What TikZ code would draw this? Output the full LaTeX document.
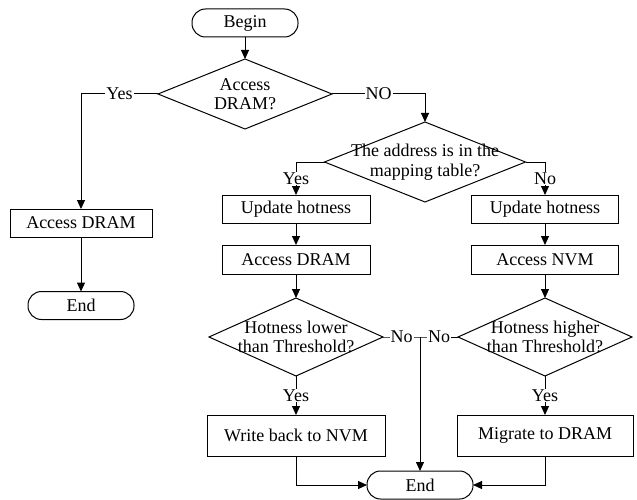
\documentclass[tikz,border=0pt]{standalone}
\usepackage{fontspec}
\setmainfont{Liberation Serif}
\usetikzlibrary{shapes.geometric,arrows.meta}
\begin{document}
\begin{tikzpicture}[x=1pt,y=-1pt,
  font=\fontsize{18}{19.5}\selectfont,
  line width=1pt,
  every node/.style={inner sep=0pt},
  box/.style={draw,rectangle,outer sep=0pt},
  term/.style={draw,rectangle,rounded corners=13.5pt,minimum width=106pt,minimum height=28pt,outer sep=0pt},
  dia/.style={draw,diamond,outer sep=0pt},
  lbl/.style={fill=white,inner sep=1pt},
  arr/.style={-{Triangle[length=9pt,width=8pt]}}
]
\useasboundingbox (0,0) rectangle (637,500);
% terminals
\node[term] (begin) at (245,23) {Begin};
\node[term] (end1) at (81,305.5) {End};
\node[term] (end2) at (420,485) {End};
% diamonds
\node[dia,minimum width=174pt,minimum height=70pt] (d1) at (245,94) {};
\node[align=center] (t1) at (d1) {Access\\DRAM?};
\node[dia,minimum width=201pt,minimum height=80pt] (d2) at (425,162) {};
\node[align=center] (t2) at (d2) {The address is in the\\mapping table?};
\node[dia,minimum width=174pt,minimum height=78pt] (d3) at (296,337) {};
\node[align=center] (t3) at (d3) {Hotness lower\\than Threshold?};
\node[dia,minimum width=174pt,minimum height=78pt] (d4) at (545,337) {};
\node[align=center] (t4) at (d4) {Hotness higher\\than Threshold?};
% boxes
\node[box,minimum width=142pt,minimum height=28pt] (b1) at (81,223) {Access DRAM};
\node[box,minimum width=148pt,minimum height=28pt] (b2) at (296,209) {Update hotness};
\node[box,minimum width=148pt,minimum height=29pt] (b3) at (296,259.5) {Access DRAM};
\node[box,minimum width=147pt,minimum height=28pt] (b4) at (545,209) {Update hotness};
\node[box,minimum width=147pt,minimum height=29pt] (b5) at (545,259.5) {Access NVM};
\node[box,minimum width=178pt,minimum height=41pt] (b6) at (296,435.5) {Write back to NVM};
\node[box,minimum width=176pt,minimum height=41pt] (b7) at (545,435.5) {Migrate to DRAM};
% connectors
\draw[arr] (begin.south) -- (d1.north);
\draw[arr] (d1.west) -- node[lbl]{Yes} (b1.north |- d1.west) -- (b1.north);
\draw[arr] (b1.south) -- (end1.north);
\draw[arr] (d1.east) -- node[lbl]{NO} (d2.north |- d1.east) -- (d2.north);
\draw[arr] (d2.west) -- (b2.north |- d2.west) -- node[lbl]{Yes} (b2.north);
\draw[arr] (d2.east) -- (b4.north |- d2.east) -- node[lbl]{No} (b4.north);
\draw[arr] (b2.south) -- (b3.north);
\draw[arr] (b3.south) -- (d3.north);
\draw[arr] (b4.south) -- (b5.north);
\draw[arr] (b5.south) -- (d4.north);
\draw[arr] (d3.south) -- node[lbl]{Yes} (b6.north);
\draw[arr] (d4.south) -- node[lbl]{Yes} (b7.north);
\coordinate (j) at (end2.north |- d3.east);
\draw (d3.east) -- node[lbl]{No} (j) -- node[lbl]{No} (d4.west);
\draw[arr] (j) -- (end2.north);
\draw[arr] (b6.south) |- (end2.west);
\draw[arr] (b7.south) |- (end2.east);
\end{tikzpicture}
\end{document}
